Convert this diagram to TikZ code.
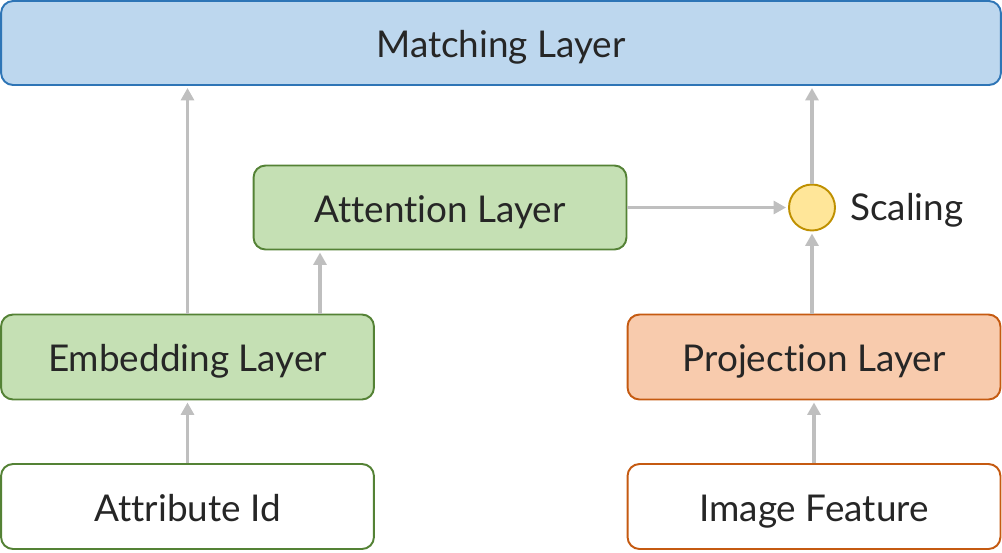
\documentclass[tikz,border=0pt]{standalone}
\usepackage{fontspec}
\setmainfont[Ligatures={NoCommon,NoContextual}]{Lato}
\usetikzlibrary{arrows.meta}
\definecolor{txt}{HTML}{262626}
\definecolor{bluefill}{HTML}{BDD7EE}
\definecolor{blueline}{HTML}{2E75B6}
\definecolor{greenfill}{HTML}{C5E0B4}
\definecolor{greenline}{HTML}{548235}
\definecolor{orangefill}{HTML}{F8CBAD}
\definecolor{orangeline}{HTML}{C55A11}
\definecolor{yellowfill}{HTML}{FFE699}
\definecolor{yellowline}{HTML}{BF9000}
\definecolor{arrowgray}{HTML}{BFBFBF}
\tikzset{
  layerbox/.style={draw, rectangle, rounded corners=0.24cm, line width=1.1pt,
    minimum width=7.46cm, minimum height=1.7cm, inner sep=0pt,
    font=\fontsize{21}{24}\selectfont, text=txt, text height=17pt, text depth=0pt},
  conn/.style={draw=arrowgray, line width=1.8pt,
    -{Triangle[length=0.25cm, width=0.26cm]}, shorten >=0.04cm},
}
\begin{document}
\begin{tikzpicture}[x=0.02cm, y=-0.02cm]
\useasboundingbox (0,0) rectangle (1002,552);
\node[layerbox, fill=bluefill, draw=blueline, minimum width=20cm, minimum height=1.68cm] (match) at (501,43) {Matching Layer};
\node[layerbox, fill=greenfill, draw=greenline, minimum height=1.68cm] (att) at (440,207.5) {Attention Layer};
\node[layerbox, fill=greenfill, draw=greenline] (emb) at (187.5,357) {Embedding Layer};
\node[layerbox, fill=white, draw=greenline] (attr) at (187.5,506.5) {Attribute Id};
\node[layerbox, fill=orangefill, draw=orangeline] (proj) at (814,357) {Projection Layer};
\node[layerbox, fill=white, draw=orangeline] (img) at (814,506.5) {Image Feature};
\node[circle, draw=yellowline, fill=yellowfill, line width=1.1pt, minimum size=0.92cm, inner sep=0pt] (scal) at (812,207.5) {};
\node[anchor=west, font=\fontsize{21}{24}\selectfont, text=txt, inner sep=0pt, text height=17pt, text depth=0pt] (scallab) at (850,206) {Scaling};
\draw[conn] (attr.north) -- (emb.south);
\draw[conn] (emb.north) -- (emb.north |- match.south);
\draw[conn] (emb.north -| 320,0) coordinate (e2) -- (e2 |- att.south);
\draw[conn] (att.east) -- (scal.west);
\draw[conn] (proj.north -| scal.south) -- (scal.south);
\draw[conn] (scal.north) -- (scal.north |- match.south);
\draw[conn] (img.north) -- (proj.south);
\end{tikzpicture}
\end{document}
